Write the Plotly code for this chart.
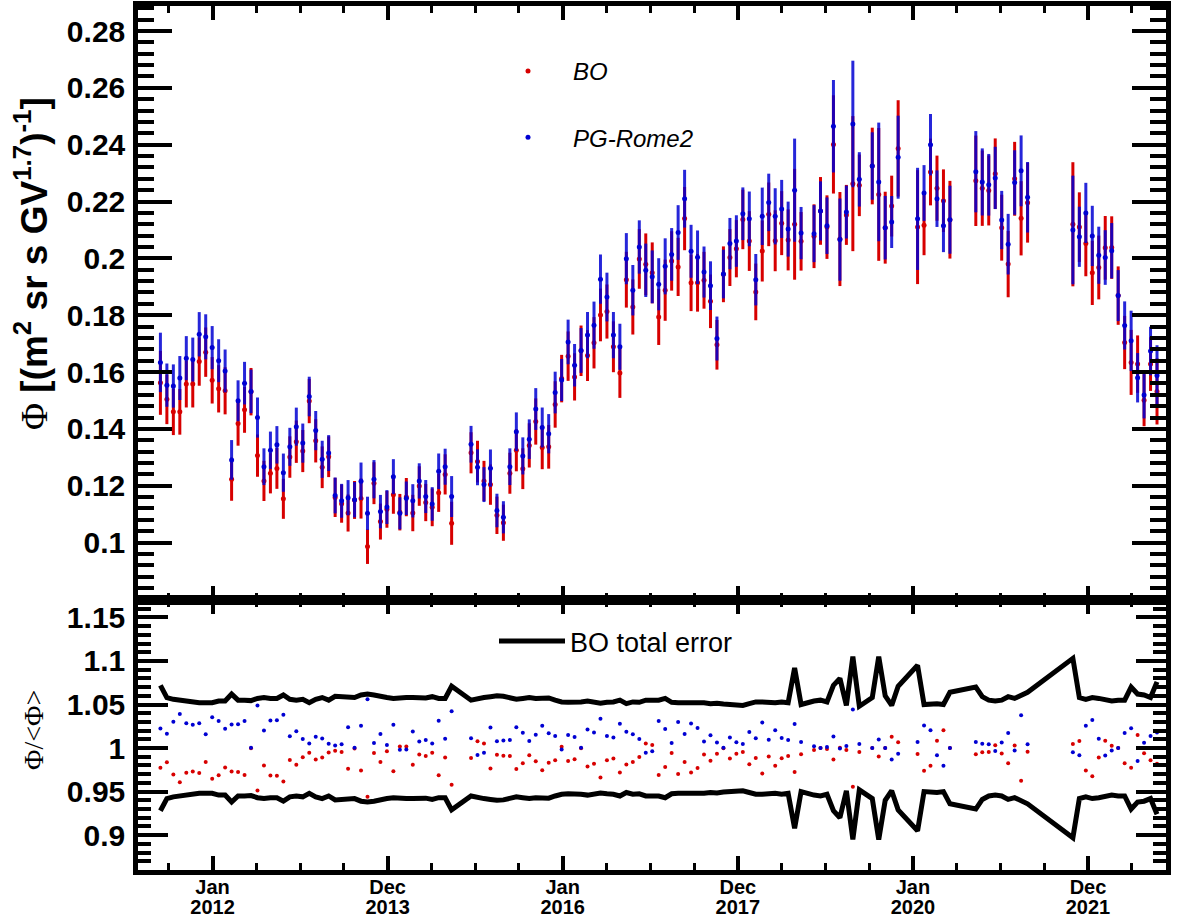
import plotly.graph_objects as go
from datetime import datetime, timedelta

# Bartels rotation numbers of the measured points
bartels = [
    2426, 2427, 2428, 2429, 2430, 2431, 2432, 2433, 2434, 2435,
    2436, 2437, 2438, 2439, 2440, 2441, 2442, 2443, 2444, 2445,
    2446, 2447, 2448, 2449, 2450, 2451, 2452, 2453, 2454, 2455,
    2456, 2457, 2458, 2459, 2460, 2461, 2462, 2463, 2464, 2465,
    2466, 2467, 2468, 2469, 2470, 2471,
    2474, 2475, 2476, 2477, 2478, 2479, 2480, 2481, 2482, 2483,
    2484, 2485, 2486, 2487, 2488, 2489, 2490, 2491, 2492, 2493,
    2494, 2495, 2496, 2497, 2498, 2499, 2500, 2501, 2502, 2503,
    2504, 2505, 2506, 2507, 2508, 2509, 2510, 2511, 2512, 2513,
    2514, 2515, 2516, 2517, 2518, 2519, 2520, 2521, 2522, 2523,
    2524, 2525,
    2527, 2528, 2529, 2530, 2531, 2532, 2533, 2534,
    2536, 2537, 2538, 2539, 2540,
    2543, 2544, 2545, 2546, 2547, 2548,
    2552, 2553, 2554, 2555, 2556, 2557, 2558, 2559, 2560,
    2567, 2568, 2569, 2570, 2571, 2572, 2573, 2574, 2575, 2576,
    2577, 2578, 2579, 2580,
]

phi_bo = [
    0.1562, 0.1504, 0.1460, 0.1460, 0.1558, 0.1558, 0.1637, 0.1670, 0.1571, 0.1541,
    0.1534, 0.1223, 0.1419, 0.1467, 0.1531, 0.1306, 0.1217, 0.1244, 0.1261, 0.1154,
    0.1301, 0.1355, 0.1322, 0.1498, 0.1358, 0.1265, 0.1302, 0.1159, 0.1137, 0.1104,
    0.1150, 0.1155, 0.0986, 0.1209, 0.1074, 0.1117, 0.1168, 0.1107, 0.1160, 0.1104,
    0.1199, 0.1141, 0.1124, 0.1175, 0.1240, 0.1068,
    0.1316, 0.1285, 0.1217, 0.1204, 0.1096, 0.1070, 0.1244, 0.1325, 0.1260, 0.1342,
    0.1426, 0.1335, 0.1337, 0.1486, 0.1577, 0.1656, 0.1583, 0.1675, 0.1658, 0.1703,
    0.1801, 0.1813, 0.1689, 0.1597, 0.1925, 0.1829, 0.1998, 0.1979, 0.1949, 0.1794,
    0.1888, 0.1991, 0.1970, 0.2140, 0.1914, 0.1914, 0.1923, 0.1849, 0.1696, 0.1944,
    0.2003, 0.2034, 0.2137, 0.2061, 0.1882, 0.2026, 0.2155, 0.2062, 0.2124, 0.2065,
    0.2120, 0.2060,
    0.2078, 0.2167, 0.2110, 0.2401, 0.2068, 0.2153, 0.2263, 0.2257,
    0.2325, 0.2225, 0.2108, 0.2184, 0.2387,
    0.2110, 0.2117, 0.2304, 0.2247, 0.2203, 0.2136,
    0.2273, 0.2247, 0.2239, 0.2298, 0.2108, 0.1980, 0.2280, 0.2141, 0.2196,
    0.2120, 0.2110, 0.2052, 0.1949, 0.1968, 0.2037, 0.2038, 0.1869, 0.1704, 0.1634,
    0.1628, 0.1501, 0.1628, 0.1532,
]

phi_pg = [
    0.1634, 0.1554, 0.1551, 0.1579, 0.1649, 0.1644, 0.1733, 0.1724, 0.1686, 0.1640,
    0.1604, 0.1291, 0.1499, 0.1561, 0.1532, 0.1440, 0.1267, 0.1325, 0.1344, 0.1246,
    0.1337, 0.1408, 0.1350, 0.1514, 0.1394, 0.1293, 0.1315, 0.1166, 0.1147, 0.1158,
    0.1151, 0.1216, 0.1103, 0.1223, 0.1109, 0.1125, 0.1232, 0.1103, 0.1156, 0.1147,
    0.1217, 0.1162, 0.1136, 0.1251, 0.1267, 0.1162,
    0.1346, 0.1265, 0.1204, 0.1262, 0.1113, 0.1089, 0.1267, 0.1390, 0.1305, 0.1364,
    0.1470, 0.1405, 0.1383, 0.1528, 0.1572, 0.1706, 0.1624, 0.1676, 0.1730, 0.1765,
    0.1927, 0.1864, 0.1730, 0.1689, 0.1999, 0.1888, 0.2040, 0.1958, 0.1935, 0.1909,
    0.1972, 0.2014, 0.2091, 0.2210, 0.2025, 0.2004, 0.1952, 0.1904, 0.1718, 0.1945,
    0.2052, 0.2061, 0.2157, 0.2139, 0.1925, 0.2148, 0.2197, 0.2148, 0.2174, 0.2103,
    0.2240, 0.2089,
    0.2087, 0.2167, 0.2115, 0.2465, 0.2066, 0.2163, 0.2473, 0.2278,
    0.2325, 0.2269, 0.2108, 0.2128, 0.2356,
    0.2139, 0.2230, 0.2400, 0.2210, 0.2115, 0.2136,
    0.2305, 0.2269, 0.2259, 0.2283, 0.2135, 0.2050, 0.2267, 0.2308, 0.2215,
    0.2100, 0.2076, 0.2160, 0.2079, 0.2011, 0.2003, 0.2027, 0.1869, 0.1764, 0.1710,
    0.1580, 0.1519, 0.1674, 0.1588,
]

# relative total errors in percent
bo_err_pct = [
    7.2, 5.8, 5.6, 5.5, 5.3, 5.3, 5.2, 5.2, 5.2, 5.4,
    5.4, 6.2, 5.5, 5.5, 5.45, 5.7, 5.8, 5.7, 5.7, 6.1,
    5.6, 5.5, 5.6, 5.2, 5.6, 5.8, 5.5, 5.95, 5.9, 5.9,
    5.8, 6.1, 6.2, 6.1, 5.9, 5.8, 5.7, 5.8, 5.8, 5.8,
    5.8, 5.75, 5.9, 5.7, 5.7, 7.1,
    5.5, 5.7, 5.8, 5.9, 6.0, 5.95, 5.8, 5.6, 5.7, 5.8,
    5.7, 5.75, 5.75, 5.5, 5.3, 5.25, 5.25, 5.3, 5.4, 5.3,
    5.15, 5.25, 5.3, 5.5, 5.1, 5.3, 5.25, 5.5, 5.5, 5.5,
    5.7, 5.25, 5.2, 5.2, 5.2, 5.3, 5.2, 5.1, 5.15, 5.05,
    5.0, 4.95, 4.9, 5.1, 5.3, 5.3, 5.2, 5.2, 5.3, 5.2,
    9.2, 5.0,
    5.4, 5.5, 5.3, 7.2, 8.0, 4.9, 10.5, 4.8,
    5.8, 10.5, 6.0, 4.9, 7.1,
    9.5, 5.0, 5.1, 5.1, 5.0, 6.4,
    7.0, 5.9, 5.5, 5.4, 5.5, 5.9, 5.7, 6.1, 6.4,
    10.3, 5.8, 5.6, 5.8, 5.7, 5.5, 5.4, 5.5, 5.5, 7.0,
    6.2, 6.1, 5.8, 7.6,
]

pg_err_pct = [
    6.4, 4.9, 4.9, 4.9, 4.7, 4.7, 4.5, 4.6, 4.5, 4.6,
    4.7, 5.4, 4.8, 4.8, 5.0, 4.9, 5.1, 4.95, 4.9, 5.4,
    5.0, 4.75, 5.1, 4.6, 4.95, 5.05, 4.8, 5.4, 5.2, 5.35,
    5.4, 5.4, 5.3, 5.5, 5.3, 5.3, 5.0, 5.1, 5.1, 5.1,
    5.1, 5.0, 5.2, 5.0, 5.0, 6.2,
    4.8, 5.0, 5.1, 5.2, 5.3, 5.2, 5.1, 4.9, 5.0, 5.1,
    5.0, 5.0, 5.0, 4.8, 4.7, 4.6, 4.6, 4.7, 4.7, 4.7,
    4.5, 4.6, 4.7, 4.8, 4.5, 4.7, 4.6, 4.8, 4.8, 4.8,
    5.0, 4.6, 4.6, 4.6, 4.6, 4.7, 4.6, 4.5, 4.5, 4.4,
    4.4, 4.4, 4.3, 4.5, 4.7, 4.7, 4.6, 4.6, 4.7, 4.6,
    8.1, 4.4,
    4.8, 4.8, 4.7, 6.6, 7.0, 4.3, 9.0, 4.2,
    5.1, 9.2, 5.3, 4.3, 6.2,
    8.4, 4.4, 4.5, 4.5, 4.4, 5.6,
    6.2, 5.2, 4.8, 4.8, 4.8, 5.2, 5.0, 5.4, 5.6,
    9.1, 5.1, 4.9, 5.1, 5.0, 4.8, 4.8, 4.8, 4.8, 6.2,
    5.5, 5.4, 5.1, 6.7,
]

x_tick_vals = ["2012-01-01", "2013-12-31 12:00", "2016-01-01",
               "2017-12-31 12:00", "2020-01-01", "2021-12-31 12:00"]
x_tick_months = ["Jan", "Dec", "Jan", "Dec", "Jan", "Dec"]
x_tick_years = ["2012", "2013", "2016", "2017", "2020", "2021"]
y_top_tickvals = [0.1, 0.12, 0.14, 0.16, 0.18, 0.2, 0.22, 0.24, 0.26, 0.28]
y_top_ticktext = ["0.1", "0.12", "0.14", "0.16", "0.18", "0.2", "0.22", "0.24", "0.26", "0.28"]
y_bot_tickvals = [0.9, 0.95, 1.0, 1.05, 1.1, 1.15]
y_bot_ticktext = ["0.9", "0.95", "1", "1.05", "1.1", "1.15"]

# ---- derived quantities ----
br0 = datetime(2011, 5, 15)  # start of Bartels rotation 2426
t = [br0 + timedelta(days=27 * (b - 2426) + 13.5) for b in bartels]
mean_phi = [(a + b) / 2 for a, b in zip(phi_bo, phi_pg)]
ratio_bo = [a / m for a, m in zip(phi_bo, mean_phi)]
ratio_pg = [b / m for b, m in zip(phi_pg, mean_phi)]
err_bo = [a * e / 100 for a, e in zip(phi_bo, bo_err_pct)]
err_pg = [b * e / 100 for b, e in zip(phi_pg, pg_err_pct)]
band_up = [1 + e / 100 for e in bo_err_pct]
band_lo = [1 - e / 100 for e in bo_err_pct]

RED = "rgb(215,0,0)"
BLUE = "rgb(0,0,210)"
FONT = "Liberation Sans"

fig = go.Figure()

fig.add_trace(go.Scatter(
    x=t, y=phi_bo, mode="markers", name="BO", legendgroup="a",
    marker=dict(color=RED, size=5),
    error_y=dict(type="data", array=err_bo, color=RED, thickness=3, width=0),
    xaxis="x", yaxis="y"))
fig.add_trace(go.Scatter(
    x=t, y=phi_pg, mode="markers", name="PG-Rome2", legendgroup="b",
    marker=dict(color=BLUE, size=5),
    error_y=dict(type="data", array=err_pg, color="rgba(0,0,210,0.85)", thickness=3, width=0),
    xaxis="x", yaxis="y"))

fig.add_trace(go.Scatter(
    x=t, y=band_up, mode="lines", name="BO total error", legend="legend2",
    line=dict(color="black", width=5), xaxis="x2", yaxis="y2"))
fig.add_trace(go.Scatter(
    x=t, y=band_lo, mode="lines", showlegend=False,
    line=dict(color="black", width=5), xaxis="x2", yaxis="y2"))
fig.add_trace(go.Scatter(
    x=t, y=ratio_bo, mode="markers", showlegend=False,
    marker=dict(color=RED, size=4), xaxis="x2", yaxis="y2"))
fig.add_trace(go.Scatter(
    x=t, y=ratio_pg, mode="markers", showlegend=False,
    marker=dict(color=BLUE, size=4), xaxis="x2", yaxis="y2"))
# invisible carrier so the second (year) label row of the time axis is drawn
fig.add_trace(go.Scatter(
    x=t, y=ratio_pg, mode="markers", showlegend=False, hoverinfo="skip",
    marker=dict(color="rgba(0,0,0,0)", size=1), xaxis="x3", yaxis="y2"))

x_range = ["2011-02-24", "2022-11-22"]
minor_x = dict(ticks="inside", ticklen=7, tickwidth=3, tickcolor="black",
               tick0="2012-01-01", dtick=182.625 * 86400000)
common_x = dict(type="date", range=x_range, tickmode="array", tickvals=x_tick_vals,
                ticks="inside", ticklen=14, tickwidth=4, tickcolor="black",
                showline=True, linewidth=4.5, linecolor="black", mirror="ticks",
                showgrid=False, zeroline=False, minor=minor_x, automargin=False)
tick_font_x = dict(family=FONT, size=20, weight="bold", color="black")

fig.update_layout(
    width=1196, height=918,
    margin=dict(l=138, r=30, t=6, b=48, autoexpand=False),
    paper_bgcolor="white", plot_bgcolor="white",
    font=dict(family=FONT, color="black"),
    xaxis=dict(domain=[0, 1], anchor="y", showticklabels=False, matches="x2", **common_x),
    xaxis2=dict(domain=[0, 1], anchor="y2", ticktext=x_tick_months,
                tickfont=tick_font_x, ticklabelstandoff=-5, **common_x),
    xaxis3=dict(type="date", range=x_range, overlaying="x2", anchor="y2", side="bottom",
                tickmode="array", tickvals=x_tick_vals, ticktext=x_tick_years,
                ticks="", showline=False, showgrid=False, zeroline=False,
                tickfont=tick_font_x, ticklabelstandoff=23, automargin=False),
    yaxis=dict(domain=[0.3125, 1], range=[0.0798, 0.2888], anchor="x",
               tickmode="array", tickvals=y_top_tickvals, ticktext=y_top_ticktext,
               ticks="inside", ticklen=34, tickwidth=4, tickcolor="black",
               tickfont=dict(family=FONT, size=30, weight="bold", color="black"),
               ticklabelstandoff=2, automargin=False,
               showline=True, linewidth=4.5, linecolor="black", mirror="ticks",
               showgrid=False, zeroline=False,
               minor=dict(ticks="inside", ticklen=16, tickwidth=4, tickcolor="black",
                          tick0=0.08, dtick=0.004)),
    yaxis2=dict(domain=[0, 0.3125], range=[0.86, 1.17], anchor="x2",
                tickmode="array", tickvals=y_bot_tickvals, ticktext=y_bot_ticktext,
                ticks="inside", ticklen=30, tickwidth=4, tickcolor="black",
                tickfont=dict(family=FONT, size=30, weight="bold", color="black"),
                ticklabelstandoff=2, automargin=False,
                showline=True, linewidth=4.5, linecolor="black", mirror="ticks",
                showgrid=False, zeroline=False,
                minor=dict(ticks="inside", ticklen=13, tickwidth=4, tickcolor="black",
                           tick0=0.85, dtick=0.01)),
    legend=dict(x=(483 - 138) / 1028, y=(870 - 49) / 864, xanchor="left", yanchor="top",
                bgcolor="rgba(0,0,0,0)", borderwidth=0, itemwidth=80,
                tracegroupgap=32, traceorder="grouped",
                font=dict(family=FONT, size=24, style="italic", color="black")),
    legend2=dict(x=(494 - 138) / 1028, y=(870 - 617) / 864, xanchor="left", yanchor="top",
                 bgcolor="rgba(0,0,0,0)", borderwidth=0, itemwidth=66,
                 font=dict(family=FONT, size=27, color="black")),
    annotations=[
        dict(text="<span style='font-family:Liberation Serif;font-weight:normal'>Φ</span>"
                  " [(m<sup>2</sup> sr s GV<sup>1.7</sup>)<sup>-1</sup>]",
             xref="paper", yref="paper", x=(31 - 138) / 1028, y=(870 - 264) / 864,
             xanchor="center", yanchor="middle", textangle=-90, showarrow=False,
             font=dict(family=FONT, size=37, weight="bold", color="black")),
        dict(text="Φ/&lt;Φ&gt;",
             xref="paper", yref="paper", x=(33 - 138) / 1028, y=(870 - 730) / 864,
             xanchor="center", yanchor="middle", textangle=-90, showarrow=False,
             font=dict(family="Liberation Serif", size=28, color="black")),
    ],
)

fig.write_html("out.html", config={"displayModeBar": False},
               post_script="document.body.style.margin='0px';")
